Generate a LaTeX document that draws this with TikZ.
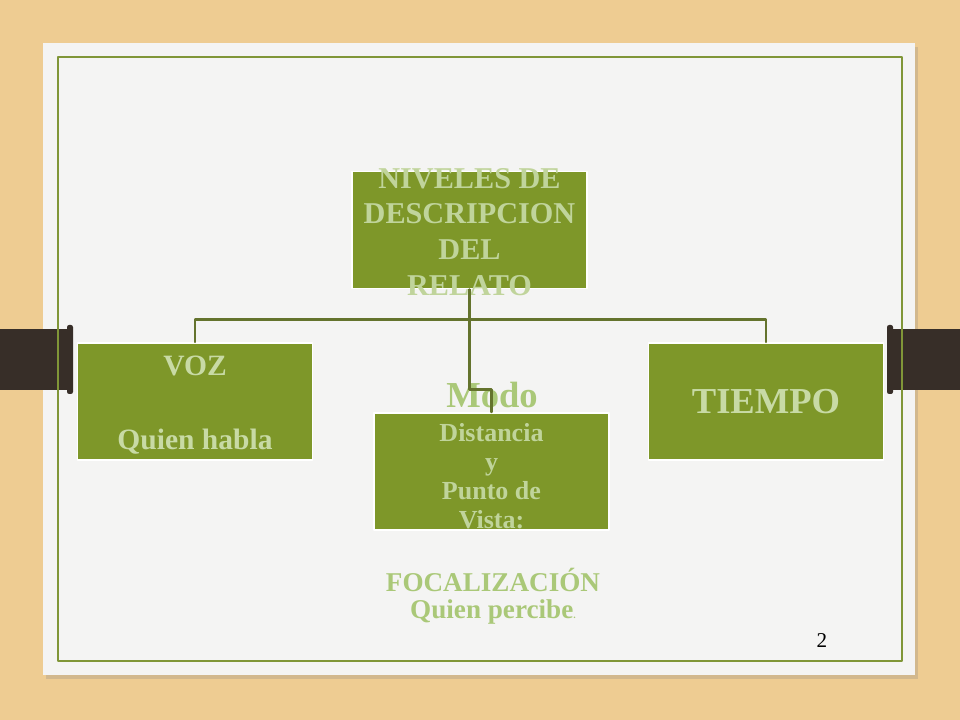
\documentclass[tikz,border=0pt]{standalone}
\usepackage{fontspec}
\setmainfont{Liberation Serif}
\usetikzlibrary{positioning,shadows}

\definecolor{wood}{RGB}{238,204,146}
\definecolor{paper}{RGB}{244,244,243}
\definecolor{olive}{RGB}{128,150,56}
\definecolor{boxgreen}{RGB}{126,151,41}
\definecolor{linegreen}{RGB}{100,115,45}
\definecolor{palegreen}{RGB}{192,212,155}
\definecolor{lightgreen}{RGB}{200,218,165}
\definecolor{softgreen}{RGB}{170,200,120}
\definecolor{pinza}{RGB}{55,46,40}

\tikzset{
  box/.style={fill=boxgreen, draw=white, line width=1.3pt,
    minimum width=5.875cm, minimum height=2.925cm, inner sep=0pt},
  boxtext/.style={align=center, font=\bfseries, inner sep=0pt},
  conn/.style={draw=linegreen, line width=1.6pt}
}

\begin{document}
\begin{tikzpicture}[x=0.025cm,y=-0.025cm,line cap=round,line join=round]
      \path[use as bounding box] (0,0) rectangle (960,720);

      % fondo y hoja
      \fill[wood] (0,0) rectangle (960,720);
      \fill[paper, drop shadow={shadow xshift=2pt, shadow yshift=-3pt, opacity=0.25}] (43,43) rectangle (915,675);

      % pinzas
      \fill[pinza] (0,329) rectangle (70,390);
      \fill[pinza, rounded corners=1.5pt] (67,325) rectangle (73,394);
      \fill[pinza] (890,329) rectangle (960,390);
      \fill[pinza, rounded corners=1.5pt] (887,325) rectangle (893,394);

      \draw[olive, line width=2pt] (58,57) rectangle (902,661);

      % cajas
      \node[box] (niveles) at (469.5,230) {};
      \node[boxtext, text=palegreen, font=\bfseries\fontsize{21.5}{25.5}\selectfont] at (469.5,232) {NIVELES DE\\DESCRIPCION\\DEL\\RELATO};

      \node[box] (voz) at (195,401.5) {};
      \node[boxtext, text=lightgreen, font=\bfseries\fontsize{21}{26.3}\selectfont] at (195,405) {VOZ\\[0pt] \\Quien habla};

      \node[box] (tiempo) at (766,401.5) {};
      \node[boxtext, text=lightgreen, font=\bfseries\fontsize{26}{30}\selectfont] at (tiempo) {TIEMPO};

      \node[box] (distancia) at (491.5,471.5) {};
      \node[boxtext, text=palegreen, font=\bfseries\fontsize{18.5}{20.6}\selectfont] at (491.5,476) {Distancia\\y\\Punto de\\Vista:};

      % textos sueltos
      \node[boxtext, text=softgreen, font=\bfseries\fontsize{26}{30}\selectfont] (modo) at (492,395) {Modo};
      \node[boxtext, text=softgreen, font=\bfseries\fontsize{19.3}{19.5}\selectfont] (focal) at (493,596) {FOCALIZACIÓN\\Quien percibe{\fontsize{7}{7}\selectfont .}};
      \node[font=\fontsize{15}{18}\selectfont] (pagina) at (822,641) {2};

      % conectores
      \draw[conn] (niveles.south) -- ++(0,30) coordinate (bus);
      \draw[conn] (voz.north) |- (bus) -| (tiempo.north);
      \draw[conn] (bus) -- ++(0,70) coordinate (jog) -| (distancia.north);

\end{tikzpicture}
\end{document}
